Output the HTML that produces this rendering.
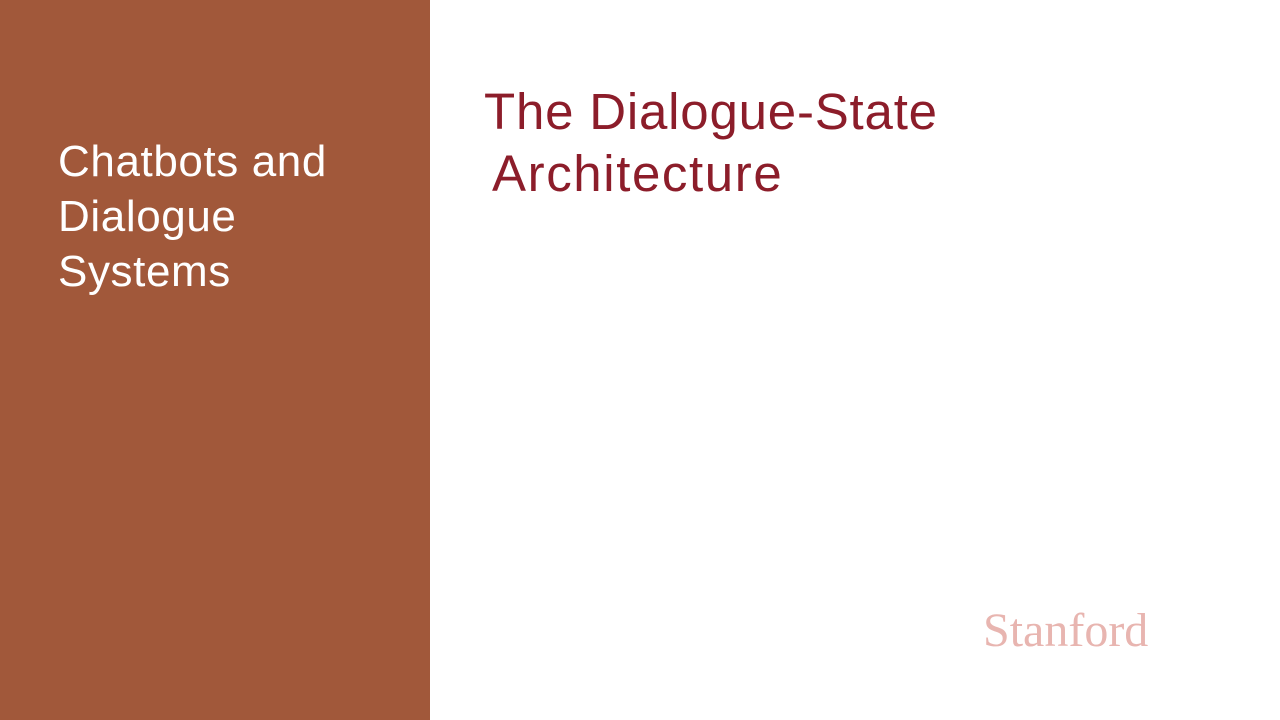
<!DOCTYPE html>
<html><head><meta charset="utf-8"><style>
html,body{margin:0;padding:0;width:1280px;height:720px;overflow:hidden;background:#fff;}
.left{position:absolute;left:0;top:0;width:430px;height:720px;background:#A1583A;}
.lt{position:absolute;left:58px;top:134px;color:#fff;font-family:"Liberation Sans",sans-serif;font-size:44px;line-height:55px;font-weight:normal;letter-spacing:0.6px;}
.t{position:absolute;font-family:"Liberation Sans",sans-serif;color:#8C1D2A;font-size:51px;white-space:nowrap;letter-spacing:0.8px;}
.st{position:absolute;left:983px;top:603px;font-family:"Liberation Serif",serif;font-size:48px;color:#E8B5B0;}
</style></head><body>
<div class="left"><div class="lt">Chatbots and<br>Dialogue<br>Systems</div></div>
<div class="t" style="left:484px;top:82px;">The Dialogue-State</div>
<div class="t" style="left:492px;top:144px;letter-spacing:1.6px;">Architecture</div>
<div class="st">Stanford</div>
</body></html>
